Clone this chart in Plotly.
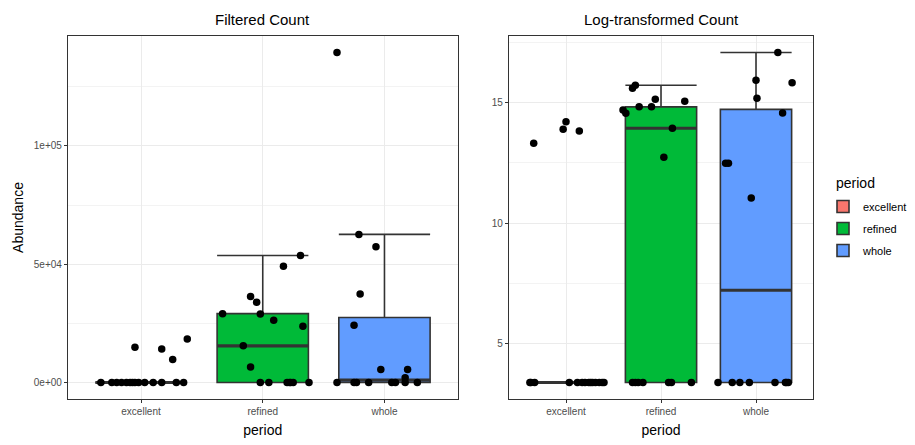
import numpy as np
import plotly.graph_objects as go

# ---------------- data ----------------
categories = ["excellent", "refined", "whole"]
group_colors = ["#F8766D", "#00BA38", "#619CFF"]

# Filtered Count (left panel)
excellent_filtered = [0, 0, 0, 0, 0, 0, 0, 0, 0, 0, 0, 0, 0, 0, 14900, 14200, 9700, 18400]
refined_filtered = [0, 0, 0, 0, 0, 0, 0, 29100, 36400, 33900, 29000, 26300, 49100, 53700, 23800, 15500, 6500]
whole_filtered = [0, 0, 0, 0, 0, 0, 0, 0, 139500, 62600, 57400, 37400, 24200, 5500, 5500, 2000]

# jitter offsets (category units)
excellent_filtered_jit = [-0.33, -0.24, -0.20, -0.16, -0.12, -0.09, -0.07, -0.05, -0.02, 0.03, 0.10, 0.17, 0.29, 0.35,
                          -0.05, 0.17, 0.26, 0.38]
refined_filtered_jit = [-0.02, 0.05, 0.20, 0.22, 0.23, 0.25, 0.38,
                        -0.33, -0.10, -0.05, -0.02, 0.09, 0.17, 0.31, 0.33, -0.16, -0.10]
whole_filtered_jit = [-0.39, -0.25, -0.23, -0.13, 0.06, 0.09, 0.17, 0.27,
                      -0.39, -0.21, -0.07, -0.20, -0.25, -0.03, 0.19, 0.17]

# Log-transformed Count (right panel)
excellent_log = [3.37, 3.37, 3.37, 3.37, 3.37, 3.37, 3.37, 3.37, 3.37, 3.37, 3.37, 3.37, 3.37, 3.37,
                 13.32, 13.90, 14.21, 13.83]
refined_log = [3.37, 3.37, 3.37, 3.37, 3.37, 3.37, 3.37,
               14.70, 14.56, 15.60, 15.73, 14.83, 14.83, 15.15, 13.94, 12.74, 15.06]
whole_log = [3.37, 3.37, 3.37, 3.37, 3.37, 3.37, 3.37, 3.37,
             17.09, 15.94, 15.19, 15.83, 14.57, 12.49, 12.49, 11.04]

excellent_log_jit = [-0.38, -0.37, -0.33, 0.035, 0.12, 0.17, 0.20, 0.24, 0.26, 0.28, 0.31, 0.35, 0.38, 0.40,
                     -0.34, -0.03, 0.00, 0.14]
refined_log_jit = [-0.30, -0.27, -0.24, -0.19, 0.08, 0.11, 0.32,
                   -0.40, -0.37, -0.30, -0.27, -0.23, -0.10, -0.06, 0.12, 0.03, 0.25]
whole_log_jit = [-0.40, -0.25, -0.17, -0.07, 0.20, 0.31, 0.32, 0.34,
                 0.23, 0.00, 0.01, 0.38, 0.28, -0.32, -0.29, -0.05]

left_ticks = [0, 50000, 100000]
left_ticktext = ["0e+00", "5e+04", "1e+05"]
left_minor = [25000, 75000, 125000]
right_ticks = [5, 10, 15]
right_ticktext = ["5", "10", "15"]
right_minor = [7.5, 12.5, 17.5]

panels = [
    dict(values=[excellent_filtered, refined_filtered, whole_filtered],
         jitter=[excellent_filtered_jit, refined_filtered_jit, whole_filtered_jit],
         title="Filtered Count"),
    dict(values=[excellent_log, refined_log, whole_log],
         jitter=[excellent_log_jit, refined_log_jit, whole_log_jit],
         title="Log-transformed Count"),
]

# ---------------- style ----------------
FONT = "Liberation Sans, Arial, sans-serif"
BOX_W = 0.75
OUTLINE = "#333333"
W, H = 915, 445
ML, MR, MT, MB = 68, W - 813, 36, 46
PW = W - ML - MR
PH = H - MT - MB
left_dom = [0, (457.5 - ML) / PW]
right_dom = [(509 - ML) / PW, 1]

fig = go.Figure()


def box_stats(v):
    a = np.asarray(v, dtype=float)
    q1, med, q3 = np.percentile(a, [25, 50, 75])
    iqr = q3 - q1
    lo = a[a >= q1 - 1.5 * iqr].min()
    hi = a[a <= q3 + 1.5 * iqr].max()
    return q1, med, q3, lo, hi


for pi, p in enumerate(panels):
    xa = "x" if pi == 0 else "x2"
    ya = "y" if pi == 0 else "y2"
    for gi, (vals, col) in enumerate(zip(p["values"], group_colors)):
        pos = gi + 1
        q1, med, q3, lo, hi = box_stats(vals)
        fig.add_trace(go.Box(
            x=[pos], q1=[q1], median=[med], q3=[q3], lowerfence=[lo], upperfence=[hi],
            width=BOX_W, whiskerwidth=1, fillcolor=col,
            line=dict(color=OUTLINE, width=1.6), boxpoints=False,
            name=categories[gi], legendgroup=categories[gi], showlegend=(pi == 0),
            xaxis=xa, yaxis=ya, hoverinfo="skip"))
        fig.add_trace(go.Scatter(
            x=[pos - BOX_W / 2, pos + BOX_W / 2], y=[med, med], mode="lines",
            line=dict(color=OUTLINE, width=3.2), showlegend=False, hoverinfo="skip",
            xaxis=xa, yaxis=ya))
    for gi, (vals, jit) in enumerate(zip(p["values"], p["jitter"])):
        pos = gi + 1
        fig.add_trace(go.Scatter(
            x=[pos + j for j in jit], y=vals, mode="markers",
            marker=dict(color="black", size=7.5), showlegend=False, hoverinfo="skip",
            xaxis=xa, yaxis=ya))


def yrange(panel):
    allv = np.concatenate([np.asarray(v, float) for v in panel["values"]])
    lo, hi = allv.min(), allv.max()
    pad = 0.05 * (hi - lo)
    return [lo - pad, hi + pad]


axis_common = dict(showline=True, mirror=True, linecolor=OUTLINE, linewidth=1.2,
                   ticks="outside", ticklen=3, tickcolor=OUTLINE, tickwidth=1,
                   showgrid=True, gridcolor="#EBEBEB", gridwidth=1, zeroline=False,
                   automargin=False,
                   tickfont=dict(family=FONT, size=10, color="#4D4D4D"))

xcommon = dict(axis_common, range=[0.4, 3.6], tickvals=[1, 2, 3], ticktext=categories,
               title=dict(text="period", font=dict(family=FONT, size=14, color="black"), standoff=9))


def py(pix):
    """pixel row from top -> paper y"""
    return 1 + (MT - pix) / PH


def px(pix):
    return (pix - ML) / PW


fig.update_layout(
    width=W, height=H, margin=dict(l=ML, r=MR, t=MT, b=MB, autoexpand=False),
    paper_bgcolor="white", plot_bgcolor="white",
    boxmode="overlay",
    font=dict(family=FONT, color="black"),
    xaxis=dict(xcommon, domain=left_dom, anchor="y"),
    xaxis2=dict(xcommon, domain=right_dom, anchor="y2"),
    yaxis=dict(axis_common, anchor="x", range=yrange(panels[0]),
               tickvals=left_ticks, ticktext=left_ticktext,
               minor=dict(tickvals=left_minor, showgrid=True, gridcolor="#F3F3F3", gridwidth=0.6, ticks=""),
               title=dict(text="Abundance", font=dict(family=FONT, size=14, color="black"), standoff=6)),
    yaxis2=dict(axis_common, anchor="x2", range=yrange(panels[1]),
                tickvals=right_ticks, ticktext=right_ticktext,
                minor=dict(tickvals=right_minor, showgrid=True, gridcolor="#F3F3F3", gridwidth=0.6, ticks="")),
    legend=dict(x=px(823), y=py(192), xanchor="left", yanchor="top",
                font=dict(family=FONT, size=11, color="black"),
                bgcolor="rgba(0,0,0,0)", tracegroupgap=3),
    annotations=[
        dict(text=panels[0]["title"], x=(left_dom[0] + left_dom[1]) / 2, y=py(19),
             xref="paper", yref="paper", showarrow=False, xanchor="center", yanchor="middle",
             font=dict(family=FONT, size=15, color="black")),
        dict(text=panels[1]["title"], x=(right_dom[0] + right_dom[1]) / 2, y=py(19),
             xref="paper", yref="paper", showarrow=False, xanchor="center", yanchor="middle",
             font=dict(family=FONT, size=15, color="black")),
        dict(text="period", x=px(834), y=py(183),
             xref="paper", yref="paper", showarrow=False, xanchor="left", yanchor="middle",
             font=dict(family=FONT, size=14, color="black")),
    ],
)

fig.write_html("out.html", config={"displayModeBar": False},
               post_script="document.body.style.margin='0';document.body.style.padding='0';")
